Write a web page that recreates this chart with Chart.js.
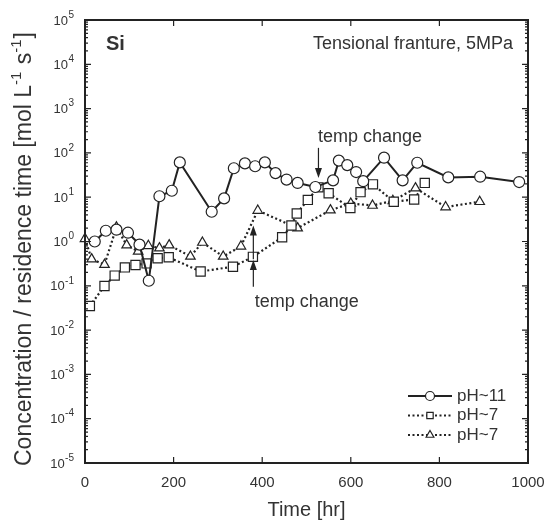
<!DOCTYPE html>
<html>
<head>
<meta charset="utf-8">
<script src="https://cdn.jsdelivr.net/npm/chart.js@4/dist/chart.umd.min.js"></script>
<style>body{margin:0;background:#fff}</style>
</head>
<body>
<canvas id="chart" width="548" height="527"></canvas>
<script>
// pH~11 (solid line, circles)
const ph11Time = [22, 47, 71, 97, 123, 144, 168, 196, 214, 286, 314, 336, 361, 384, 406, 430, 455, 480, 520, 560, 573, 592, 612, 628, 675, 717, 750, 820, 892, 980];
const ph11Conc = [1.0, 1.75, 1.85, 1.58, 0.85, 0.13, 10.5, 14, 61, 4.7, 9.4, 45, 58, 50, 61, 35, 25, 21, 17, 24, 67, 53, 37, 23, 78, 24, 60, 28, 29, 22];

// pH~7 (dotted line, squares)
const ph7aTime = [11, 44, 67, 90, 114, 139, 164, 189, 261, 334, 379, 445, 466, 478, 503, 527, 550, 599, 622, 650, 697, 743, 767];
const ph7aConc = [0.035, 0.099, 0.17, 0.26, 0.295, 0.32, 0.42, 0.44, 0.21, 0.27, 0.45, 1.25, 2.3, 4.3, 8.7, 16.7, 12.3, 5.7, 13, 19.5, 7.9, 8.9, 21];

// pH~7 (dotted line, triangles)
const ph7bTime = [0, 15, 44, 71, 94, 120, 143, 168, 190, 238, 265, 312, 352, 390, 480, 554, 600, 649, 695, 746, 814, 891];
const ph7bConc = [1.15, 0.4, 0.3, 2.1, 0.83, 0.6, 0.8, 0.71, 0.83, 0.46, 0.95, 0.46, 0.78, 5.0, 2.0, 5.1, 7.2, 6.5, 8.3, 16, 6.0, 7.9];

const seriesLabels = ['pH~11', 'pH~7', 'pH~7'];
const yExponents = [-5, -4, -3, -2, -1, 0, 1, 2, 3, 4, 5];
const xTicks = [0, 200, 400, 600, 800, 1000];

const font = '"Liberation Sans", Arial, sans-serif';
const ink = '#222';

function pts(xs, ys) {
  return xs.map((x, i) => ({ x, y: ys[i] }));
}

function arrow(ctx, x1, y1, x2, y2) {
  const a = Math.atan2(y2 - y1, x2 - x1);
  ctx.beginPath();
  ctx.moveTo(x1, y1);
  ctx.lineTo(x2 - 6 * Math.cos(a), y2 - 6 * Math.sin(a));
  ctx.stroke();
  ctx.beginPath();
  ctx.moveTo(x2, y2);
  ctx.lineTo(x2 - 10 * Math.cos(a) + 3.5 * Math.sin(a), y2 - 10 * Math.sin(a) - 3.5 * Math.cos(a));
  ctx.lineTo(x2 - 10 * Math.cos(a) - 3.5 * Math.sin(a), y2 - 10 * Math.sin(a) + 3.5 * Math.cos(a));
  ctx.closePath();
  ctx.fill();
}

// frame, inward ticks, tick labels, titles, notes, legend
const decor = {
  id: 'decor',
  afterDraw(chart) {
    const { ctx, chartArea: ca, scales: { x, y } } = chart;
    ctx.save();
    ctx.strokeStyle = ink;
    ctx.fillStyle = ink;
    ctx.lineWidth = 2;
    ctx.strokeRect(ca.left, ca.top, ca.right - ca.left, ca.bottom - ca.top);

    ctx.lineWidth = 1.2;
    ctx.beginPath();
    yExponents.forEach(e => {
      const py = y.getPixelForValue(10 ** e);
      ctx.moveTo(ca.left, py); ctx.lineTo(ca.left + 6, py);
      ctx.moveTo(ca.right, py); ctx.lineTo(ca.right - 6, py);
      if (e < 5) {
        for (let m = 2; m <= 9; m++) {
          const pm = y.getPixelForValue(m * 10 ** e);
          ctx.moveTo(ca.left, pm); ctx.lineTo(ca.left + 3, pm);
          ctx.moveTo(ca.right, pm); ctx.lineTo(ca.right - 3, pm);
        }
      }
    });
    xTicks.forEach(t => {
      const px = x.getPixelForValue(t);
      ctx.moveTo(px, ca.bottom); ctx.lineTo(px, ca.bottom - 6);
      ctx.moveTo(px, ca.top); ctx.lineTo(px, ca.top + 6);
    });
    ctx.stroke();

    // y tick labels 10^e
    ctx.fillStyle = '#333';
    yExponents.forEach(e => {
      const py = y.getPixelForValue(10 ** e);
      const xr = ca.left - 11;
      ctx.font = '10px ' + font;
      const ex = String(e);
      const ew = ctx.measureText(ex).width;
      ctx.textAlign = 'left'; ctx.textBaseline = 'middle';
      ctx.fillText(ex, xr - ew, py - 5);
      ctx.font = '13px ' + font;
      ctx.textAlign = 'right';
      ctx.fillText('10', xr - ew - 0.5, py + 1);
    });
    // x tick labels
    ctx.font = '15px ' + font;
    ctx.textAlign = 'center'; ctx.textBaseline = 'middle';
    xTicks.forEach(t => ctx.fillText(String(t), x.getPixelForValue(t), ca.bottom + 20));

    // axis titles
    ctx.font = '20px ' + font;
    ctx.fillText('Time [hr]', (ca.left + ca.right) / 2, ca.bottom + 47);

    ctx.save();
    ctx.translate(25, 466);
    ctx.rotate(-Math.PI / 2);
    const parts = [
      ['Concentration / residence time [mol L', 0], ['-1', 1], [' s', 0], ['-1', 1], [']', 0]
    ];
    let cx = 0;
    ctx.textAlign = 'left';
    parts.forEach(([t, s]) => {
      ctx.font = (s ? '15px ' : '23px ') + font;
      ctx.fillText(t, cx, s ? -8 : 0);
      cx += ctx.measureText(t).width + (s ? 1 : 0);
    });
    ctx.restore();

    // panel notes
    ctx.font = 'bold 20px ' + font;
    ctx.textAlign = 'left';
    ctx.fillText('Si', ca.left + 21, ca.top + 24);
    ctx.font = '18px ' + font;
    ctx.textAlign = 'right';
    ctx.fillText('Tensional franture, 5MPa', ca.right - 15, ca.top + 24);

    // temp change annotations
    ctx.textAlign = 'left';
    ctx.fillText('temp change', x.getPixelForValue(526), y.getPixelForValue(230));
    ctx.fillText('temp change', x.getPixelForValue(383), y.getPixelForValue(0.043));
    ctx.fillStyle = ink;
    ctx.strokeStyle = ink;
    ctx.lineWidth = 1.2;
    const ax = x.getPixelForValue(527);
    arrow(ctx, ax, y.getPixelForValue(130), ax, y.getPixelForValue(27));
    const bx = x.getPixelForValue(380);
    arrow(ctx, bx, y.getPixelForValue(0.095), bx, y.getPixelForValue(0.38));
    arrow(ctx, bx, y.getPixelForValue(0.4), bx, y.getPixelForValue(2.3));

    // legend
    chart.data.datasets.forEach((ds, i) => {
      const ly = ca.bottom - 67 + i * 19.5;
      const x0 = ca.right - 120, x1 = ca.right - 76;
      ctx.strokeStyle = ink;
      ctx.lineWidth = ds.borderWidth;
      ctx.setLineDash(ds.borderDash || []);
      ctx.beginPath(); ctx.moveTo(x0, ly); ctx.lineTo(x1, ly); ctx.stroke();
      ctx.setLineDash([]);
      ctx.fillStyle = '#fff';
      ctx.lineWidth = 1.2;
      Chart.helpers.drawPoint(ctx, { pointStyle: ds.pointStyle, radius: 4.5, rotation: 0, borderWidth: 1.2 }, (x0 + x1) / 2, ly);
      ctx.fillStyle = '#333';
      ctx.font = '17px ' + font;
      ctx.textAlign = 'left';
      ctx.fillText(seriesLabels[i], x1 + 5, ly);
    });
    ctx.restore();
  }
};

const common = {
  borderColor: ink,
  pointBackgroundColor: '#fff',
  pointBorderColor: ink,
  pointBorderWidth: 1.2,
  borderWidth: 2,
  tension: 0,
  clip: 8
};

new Chart(document.getElementById('chart'), {
  type: 'line',
  data: {
    datasets: [
      { ...common, label: seriesLabels[0], data: pts(ph11Time, ph11Conc), pointStyle: 'circle', pointRadius: 5.5 },
      { ...common, label: seriesLabels[1], data: pts(ph7aTime, ph7aConc), pointStyle: 'rect', pointRadius: 6.5, borderDash: [2, 2.5], borderWidth: 2.2 },
      { ...common, label: seriesLabels[2], data: pts(ph7bTime, ph7bConc), pointStyle: 'triangle', pointRadius: 5.5, borderDash: [2, 2.5], borderWidth: 2.2 }
    ]
  },
  options: {
    responsive: false,
    animation: false,
    layout: { padding: { top: 20, right: 20, left: 0, bottom: 0 } },
    plugins: { legend: { display: false }, tooltip: { enabled: false } },
    scales: {
      x: {
        type: 'linear', min: 0, max: 1000,
        ticks: { display: false }, grid: { display: false }, border: { display: false },
        afterFit: s => { s.height = 64; }
      },
      y: {
        type: 'logarithmic', min: 1e-5, max: 1e5,
        ticks: { display: false }, grid: { display: false }, border: { display: false },
        afterFit: s => { s.width = 85; }
      }
    }
  },
  plugins: [decor]
});
</script>
</body>
</html>
